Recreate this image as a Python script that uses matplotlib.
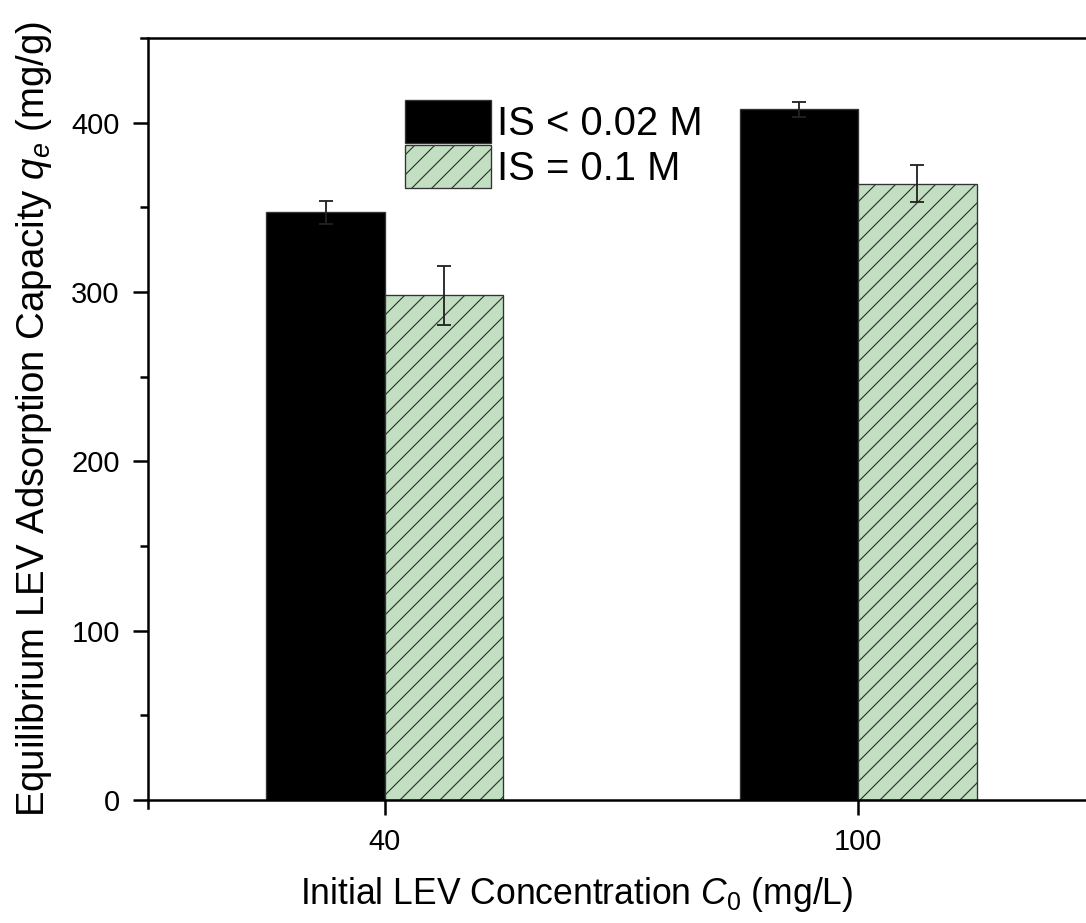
import matplotlib
matplotlib.use("Agg")
import matplotlib.pyplot as plt
import numpy as np

# Data
categories = ["40", "100"]
series_labels = ["IS < 0.02 M", "IS = 0.1 M"]
qe_low_is = [347, 408]
err_low_is = [7, 4.5]
qe_high_is = [298, 364]
err_high_is = [17.5, 11]
y_ticks = [0, 100, 200, 300, 400]

plt.rcParams["font.family"] = ["Liberation Sans", "DejaVu Sans"]
plt.rcParams["mathtext.fontset"] = "custom"
plt.rcParams["mathtext.rm"] = "Liberation Sans"
plt.rcParams["mathtext.it"] = "Liberation Sans:italic"
plt.rcParams["hatch.linewidth"] = 0.7
plt.rcParams["hatch.color"] = "#1a1a1a"

DPI = 120
fig = plt.figure(figsize=(1086 / DPI, 923 / DPI), dpi=DPI)
ax = fig.add_axes([148 / 1086, 123 / 923, 947 / 1086, 762 / 923])

x = np.arange(len(categories))
w = 0.25
err_kw = dict(ecolor="#222222", elinewidth=1.1, capthick=1.1, capsize=4.3)

ax.bar(x - w / 2, qe_low_is, w, yerr=err_low_is, color="black",
       edgecolor="#333333", linewidth=0.8, error_kw=err_kw,
       label=series_labels[0], zorder=2)
ax.bar(x + w / 2, qe_high_is, w, yerr=err_high_is, color="#c2dfc2",
       edgecolor="#333333", linewidth=0.8, hatch="//", error_kw=err_kw,
       label=series_labels[1], zorder=2)

ax.set_xlim(-0.5, 1.5)
ax.set_ylim(0, 450)
ax.set_xticks(x)
ax.set_xticklabels(categories)
ax.set_yticks(y_ticks)
ax.set_yticks(np.arange(50, 450, 100), minor=True)

for side in ["left", "bottom", "top", "right"]:
    ax.spines[side].set_linewidth(1.5)
# axis lines run slightly past the corner
ax.spines["left"].set_bounds(-4.5, 450)
ax.spines["top"].set_bounds(-0.515, 1.5)

ax.tick_params(axis="both", which="major", direction="out", length=9,
               width=1.5, labelsize=17.5, pad=8)
ax.tick_params(axis="y", which="minor", direction="out", length=5, width=1.5)
ax.tick_params(axis="x", which="minor", length=0)

ax.set_xlabel(r"Initial LEV Concentration $\mathit{C_0}$ (mg/L)",
              fontsize=21.3, labelpad=11, x=0.453)
ax.set_ylabel(r"Equilibrium LEV Adsorption Capacity $\mathit{q_e}$ (mg/g)",
              fontsize=23, labelpad=10)

ax.legend(loc="upper left", bbox_to_anchor=(0.2714, 0.9186), frameon=False,
          fontsize=24, handlelength=2.15, handleheight=1.28,
          labelspacing=0.05, handletextpad=0.15, borderpad=0,
          borderaxespad=0)

fig.savefig("out.png", dpi=DPI)
